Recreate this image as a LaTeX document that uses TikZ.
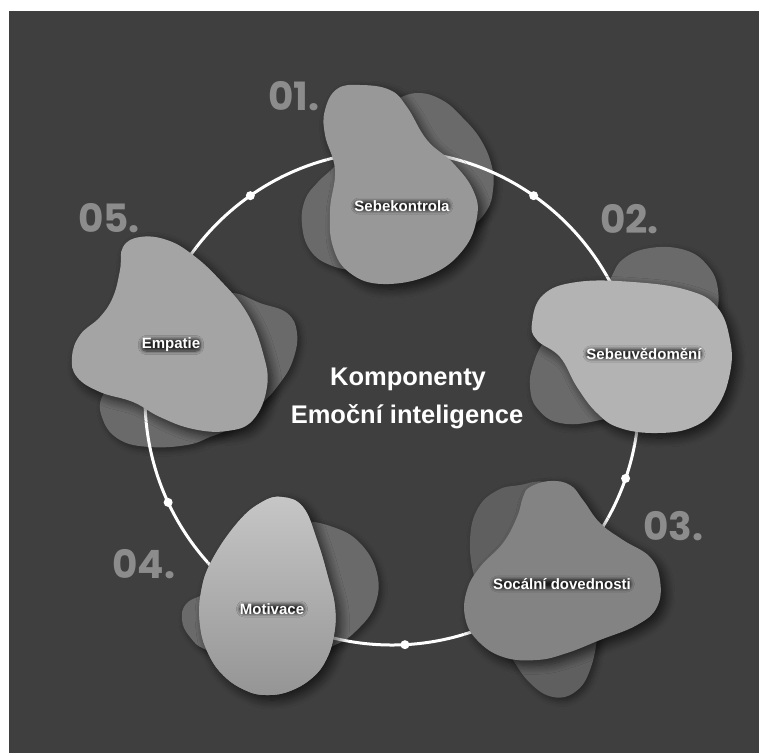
\documentclass[tikz,border=0pt]{standalone}
\usepackage{fontspec}
\setmainfont{Liberation Sans}
\newfontfamily\numfont{Poppins}
\usetikzlibrary{shadows.blur}
\definecolor{bg}{HTML}{3F3F3F}
\definecolor{numgray}{HTML}{8C8C8C}
\definecolor{backgray}{HTML}{6A6A6A}
\definecolor{backdark}{HTML}{5F5F5F}
\definecolor{blobA}{HTML}{989898}
\definecolor{blobB}{HTML}{B3B3B3}
\definecolor{blobC}{HTML}{838383}
\definecolor{blobDtop}{HTML}{C6C6C6}
\definecolor{blobDbot}{HTML}{959595}
\definecolor{blobE}{HTML}{A4A4A4}

\begin{document}
\begin{tikzpicture}[x=1pt, y=-1pt,
    backblob/.style={fill=#1, blur shadow={shadow xshift=3pt, shadow yshift=-3pt,
        shadow opacity=45, shadow blur radius=6pt, shadow blur steps=8}},
    mainblob/.style={fill=#1, blur shadow={shadow xshift=5pt, shadow yshift=-5pt,
        shadow opacity=65, shadow blur radius=9pt, shadow blur steps=10}},
    ringdot/.style={fill=white},
    tag/.style={text=white, font=\bfseries\fontsize{15}{16}\selectfont, inner xsep=0pt, inner ysep=-1pt,
        rounded corners=4pt, blur shadow={shadow xshift=0pt, shadow yshift=0pt,
        shadow opacity=80, shadow blur radius=3.5pt, shadow blur steps=7}},
    num/.style={text=numgray, font=\numfont\bfseries\fontsize{39}{40}\selectfont, inner sep=0pt, anchor=base west},
    title/.style={text=white, font=\bfseries\fontsize{25.5}{27}\selectfont, inner sep=0pt, anchor=base}]
  \useasboundingbox (0,0) rectangle (759,753);
  \fill[white] (0,0) rectangle (759,753);
  \fill[bg] (9,11) rectangle (759,753);
  \coordinate (ring) at (392,398);

  % back blobs
  \path[backblob=backgray] plot[smooth cycle, tension=0.7] coordinates {(395,100) (418,93) (442,100) (462,117) (481,140) (492,167) (493,190) (487,210) (470,228) (440,248) (400,263) (360,270) (330,265) (310,250) (302,225) (305,200) (318,182) (338,163) (365,130) (380,110)};
  \path[backblob=backgray] plot[smooth cycle, tension=0.7] coordinates {(605,285) (622,260) (650,248) (685,250) (708,266) (718,290) (715,320) (700,360) (660,400) (600,420) (560,423) (537,408) (530,387) (533,365) (545,340) (570,310)};
  \path[backblob=backdark] plot[smooth cycle, tension=0.7] coordinates {(520,485) (545,482) (570,495) (590,530) (600,580) (598,630) (590,670) (575,692) (553,697) (530,683) (510,655) (490,620) (475,580) (470,540) (478,508) (498,490)};
  \path[backblob=backgray] plot[smooth cycle, tension=0.7] coordinates {(300,522) (333,527) (360,543) (377,573) (375,605) (357,630) (335,645) (300,655) (250,660) (207,650) (190,637) (182,620) (187,603) (210,590) (240,560) (270,535)};
  \path[backblob=backgray] plot[smooth cycle, tension=0.7] coordinates {(233,293) (260,303) (287,313) (297,333) (293,360) (280,383) (260,405) (230,428) (210,437) (187,445) (150,447) (120,440) (103,420) (103,395) (130,370) (180,330) (210,300)};

  % ring with dots
  \draw[white, line width=3pt] (ring) circle[radius=247];
  \foreach \a in {125,55,-19,-87,-155}
    \fill[ringdot] (ring) ++(-\a:247) circle[radius=4.5];

  % main blobs
  \path[mainblob=blobA] plot[smooth cycle, tension=0.7] coordinates {(325,110) (337,89) (360,85) (390,90) (407,107) (427,140) (453,163) (473,190) (477,217) (463,250) (430,275) (383,284) (350,273) (333,247) (330,210) (335,170) (325,135)};
  \path[mainblob=blobB] plot[smooth cycle, tension=0.7] coordinates {(532,323) (543,295) (577,282) (633,282) (687,290) (717,307) (730,340) (730,373) (717,407) (693,427) (657,433) (620,428) (597,413) (577,387) (560,357) (537,340)};
  \path[mainblob=blobC] plot[smooth cycle, tension=0.7] coordinates {(530,487) (550,481) (570,485) (583,500) (600,523) (623,540) (650,557) (660,580) (657,607) (637,625) (600,640) (567,653) (537,660) (503,657) (477,640) (465,617) (467,590) (480,567) (503,543) (517,517) (523,497)};
  \path[mainblob=blobDbot, top color=blobDtop, bottom color=blobDbot] plot[smooth cycle, tension=0.7] coordinates {(282,497) (303,507) (317,540) (328,577) (335,607) (334,635) (326,660) (312,678) (290,691) (268,695) (247,691) (224,676) (208,653) (200,625) (201,592) (212,560) (238,522) (262,502)};
  \path[mainblob=blobE] plot[smooth cycle, tension=0.7] coordinates {(123,247) (140,237) (167,240) (193,255) (220,280) (247,313) (263,353) (267,387) (253,420) (227,431) (193,429) (160,417) (133,402) (100,392) (77,377) (72,357) (80,335) (100,317) (113,297) (120,270)};

  % labels
  \node[tag] (sebekontrola) at (402,206) {Sebekontrola};
  \node[tag] (sebeuvedomeni) at (644,354) {Sebeuvědomění};
  \node[tag] (socialni) at (562,584) {Socální dovednosti};
  \node[tag] (motivace) at (272,609) {Motivace};
  \node[tag] (empatie) at (171,345) {Empatie};

  % numbers
  \node[num] (n01) at (268,110) {01.};
  \node[num] (n02) at (600,233) {02.};
  \node[num] (n03) at (643,540) {03.};
  \node[num] (n04) at (112,578) {04.};
  \node[num] (n05) at (78,232) {05.};

  % centre title
  \node[title] (komponenty) at (408,385) {Komponenty};
  \node[title] (emocni) at (407,423) {Emoční inteligence};
\end{tikzpicture}
\end{document}
